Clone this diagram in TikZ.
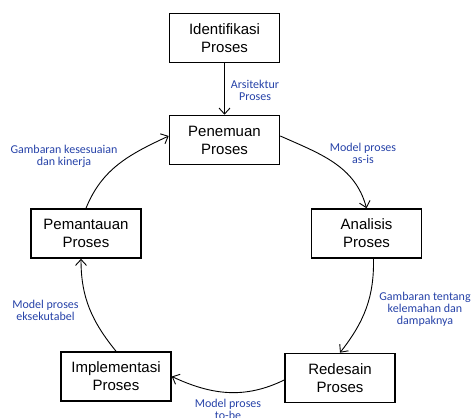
\documentclass[tikz,border=0pt]{standalone}
\usepackage{fontspec}
\setmainfont{Liberation Sans}
\newfontfamily\lblfont{Carlito}
\usepackage{tikz}
\usetikzlibrary{arrows.meta}
\definecolor{lblblue}{RGB}{38,66,168}

\begin{document}
\begin{tikzpicture}[x=1pt,y=-1pt,
	proc/.style={draw,line width=1.6pt,minimum width=110pt,minimum height=49pt,align=center,font=\fontsize{15}{18}\selectfont},
	lbl/.style={text=lblblue,align=center,inner sep=0pt,font=\lblfont\fontsize{12}{12}\selectfont},
	flow/.style={line width=0.9pt,-{Straight Barb[length=6pt,width=11pt]}}]
	\useasboundingbox (0,0) rectangle (473,417);
	\node[proc] (ident) at (224.5,38) {Identifikasi\\Proses};
	\node[proc] (temu) at (224.5,140) {Penemuan\\Proses};
	\node[proc] (pantau) at (86,233.5) {Pemantauan\\Proses};
	\node[proc] (analisis) at (366.5,233.5) {Analisis\\Proses};
	\node[proc] (impl) at (116,376.5) {Implementasi\\Proses};
	\node[proc] (redesain) at (340,378) {Redesain\\Proses};
	\draw[flow] (ident) -- (temu);
	\draw[flow] ([yshift=4pt]temu.east) to[out=-24,in=105] (analisis.north);
	\draw[flow] ([xshift=7pt]analisis.south) to[out=-89,in=52] (redesain.north);
	\draw[flow] ([yshift=-2pt]redesain.west) to[out=206,in=-25] (impl.east);
	\draw[flow] (impl.north) to[out=129,in=-90] ([xshift=-5pt]pantau.south);
	\draw[flow] (pantau.north) to[out=68,in=205] ([yshift=4pt]temu.west);
	\node[lbl] (arsitektur) at (255,90) {Arsitektur\\Proses};
	\node[lbl] (asis) at (363,153) {Model proses\\as-is};
	\node[lbl] (kinerja) at (64,156) {Gambaran kesesuaian\\dan kinerja};
	\node[lbl] (eksekutabel) at (45.5,310) {Model proses\\eksekutabel};
	\node[lbl] (kelemahan) at (425,309.5) {Gambaran tentang\\kelemahan dan\\dampaknya};
	\node[lbl] (tobe) at (228,409) {Model proses\\to-be};
\end{tikzpicture}
\end{document}
